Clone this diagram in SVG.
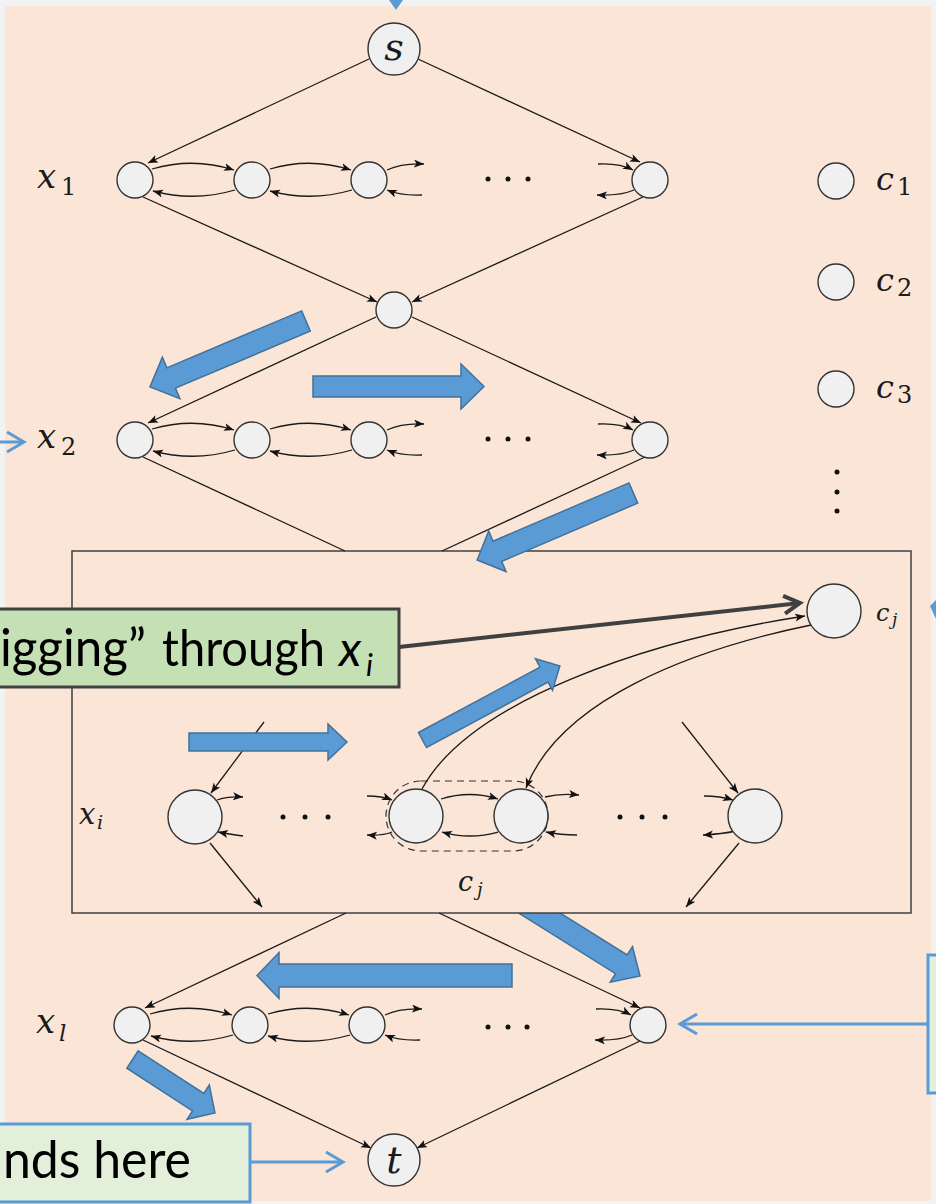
<svg xmlns="http://www.w3.org/2000/svg" xmlns:xlink="http://www.w3.org/1999/xlink" width="936" height="1204" viewBox="0 0 936 1204">
<style>
.n{fill:#f0f0f0;stroke:#333;stroke-width:1.4}
.e{fill:none;stroke:#1a1a1a;stroke-width:1.3}
.a{marker-end:url(#ah)}
.ba{fill:#5b9bd5;stroke:#41719c;stroke-width:1.5}
.m{font-family:'DejaVu Serif','Liberation Serif',serif;font-style:italic;fill:#1a1a1a}
.r{font-style:normal}
.cap{font-family:Lato,'Open Sans',sans-serif;fill:#000}
.dot{fill:#111}
</style>
<defs>
<marker id="ah" markerUnits="userSpaceOnUse" markerWidth="12" markerHeight="10" refX="10" refY="4" orient="auto"><path d="M0,0 L10,4 L0,8 L2.5,4 z" fill="#111"/></marker>
<marker id="chb" markerUnits="userSpaceOnUse" markerWidth="24" markerHeight="26" refX="19" refY="12" orient="auto"><path d="M2,2 L19,12 L2,22" fill="none" stroke="#5b9bd5" stroke-width="3"/></marker>
<marker id="chd" markerUnits="userSpaceOnUse" markerWidth="24" markerHeight="26" refX="19" refY="12" orient="auto"><path d="M3,3 L19,12 L3,21" fill="none" stroke="#404040" stroke-width="4"/></marker>
</defs>
<rect x="0" y="0" width="936" height="1204" fill="#f2f2f2"/>
<rect x="5" y="6" width="926" height="1195" fill="#fbe5d6"/>
<polygon points="389,0 403,0 396,10" fill="#5b9bd5"/>

<polygon class="ba" points="0,-11 128,-11 128,-21 150,0 128,21 128,11 0,11" transform="translate(512.8,896.5) rotate(32)"/>

<g id="box">
<rect x="72" y="551" width="839" height="362" fill="#fbe5d6" stroke="#404040" stroke-width="1.5"/>
<rect x="386" y="781" width="162" height="70" rx="35" fill="none" stroke="#333" stroke-width="1.2" stroke-dasharray="7,5"/>
</g>

<g id="connectors">
<path class="e a" d="M369,59 L148,163"/>
<path class="e a" d="M418,59 L640,162"/>
<path class="e a" d="M143,197 L377,302"/>
<path class="e a" d="M643,197 L412,302"/>
<path class="e a" d="M376,317 L148,423"/>
<path class="e a" d="M412,317 L641,423"/>
<path class="e" d="M143,457 L345,551"/>
<path class="e" d="M645,457 L442,551"/>
<g id="rowarcs">
<path class="e a" d="M152,169 Q193,157 234,170"/>
<path class="e a" d="M235,190 Q194,202 153,191"/>
<path class="e a" d="M270,169 Q310,157 351,170"/>
<path class="e a" d="M352,190 Q311,202 270,191"/>
<path class="e a" d="M387,170 Q402,163 424,164"/>
<path class="e a" d="M422,195 Q402,196 387,190"/>
<path class="e a" d="M598,164 Q620,163 633,170"/>
<path class="e a" d="M634,190 Q620,196 597,195"/>
</g>
<use xlink:href="#rowarcs" transform="translate(0,260)"/>
<use xlink:href="#rowarcs" transform="translate(-2,845)"/>
<path class="e a" d="M264,722 L211,793"/>
<path class="e a" d="M210,843 L262,907"/>
<path class="e a" d="M682,722 L738,793"/>
<path class="e a" d="M739,843 L686,907"/>
<path class="e a" d="M422,789 C470,700 650,640 805,616"/>
<path class="e a" d="M811,625 C690,650 560,700 526,788"/>
<path class="e a" d="M217,800 Q228,796 243,797"/>
<path class="e a" d="M243,836 Q228,834 218,832"/>
<path class="e a" d="M367,796 Q382,796 392,800"/>
<path class="e a" d="M392,832 Q382,836 367,835"/>
<path class="e a" d="M441,799 Q470,790 498,799"/>
<path class="e a" d="M498,832 Q470,840 442,832"/>
<path class="e a" d="M545,797 Q560,793 579,795"/>
<path class="e a" d="M577,835 Q560,835 546,832"/>
<path class="e a" d="M704,796 Q720,796 733,800"/>
<path class="e a" d="M736,831 Q722,834 703,835"/>
<path class="e a" d="M346,913 L145,1008"/>
<path class="e a" d="M439,913 L640,1008"/>
<path class="e a" d="M143,1040 L371,1148"/>
<path class="e a" d="M640,1041 L417,1148"/>
<path d="M0,442 L24,442" stroke="#5b9bd5" stroke-width="3" marker-end="url(#chb)"/>
<path d="M928,1024 L680,1024" stroke="#5b9bd5" stroke-width="3" marker-end="url(#chb)"/>
<path d="M250,1162 L343,1162" stroke="#5b9bd5" stroke-width="3" marker-end="url(#chb)"/>
<path d="M399,647 L800,603" stroke="#404040" stroke-width="4" marker-end="url(#chd)"/>
</g>

<g id="node-s"><circle class="n" cx="394" cy="49" r="26"/><text class="m" x="394" y="60" font-size="38" text-anchor="middle">s</text></g>
<g id="node-m"><circle class="n" cx="394" cy="310" r="18"/></g>
<g id="node-x1a"><circle class="n" cx="135" cy="180" r="18"/></g>
<g id="node-x1b"><circle class="n" cx="252" cy="180" r="18"/></g>
<g id="node-x1c"><circle class="n" cx="369" cy="180" r="18"/></g>
<g id="node-x1d"><circle class="n" cx="650" cy="180" r="18"/></g>
<g id="node-x2a"><circle class="n" cx="135" cy="440" r="18"/></g>
<g id="node-x2b"><circle class="n" cx="252" cy="440" r="18"/></g>
<g id="node-x2c"><circle class="n" cx="369" cy="440" r="18"/></g>
<g id="node-x2d"><circle class="n" cx="650" cy="440" r="18"/></g>
<g id="node-c1"><circle class="n" cx="836" cy="181" r="18"/></g>
<g id="node-c2"><circle class="n" cx="836" cy="282" r="18"/></g>
<g id="node-c3"><circle class="n" cx="836" cy="389" r="18"/></g>
<g id="node-cj"><circle class="n" cx="834" cy="611" r="27"/></g>
<g id="node-xiA"><circle class="n" cx="195" cy="817" r="27"/></g>
<g id="node-xiB"><circle class="n" cx="416" cy="816" r="27"/></g>
<g id="node-xiC"><circle class="n" cx="521" cy="816" r="27"/></g>
<g id="node-xiD"><circle class="n" cx="755" cy="816" r="27"/></g>
<g id="node-xla"><circle class="n" cx="132" cy="1025" r="18"/></g>
<g id="node-xlb"><circle class="n" cx="250" cy="1025" r="18"/></g>
<g id="node-xlc"><circle class="n" cx="367" cy="1025" r="18"/></g>
<g id="node-xld"><circle class="n" cx="648" cy="1025" r="18"/></g>
<g id="node-t"><circle class="n" cx="394" cy="1160" r="26"/><text class="m" x="394" y="1173" font-size="38" text-anchor="middle">t</text></g>

<g id="labels">
<text class="m" x="37" y="188" font-size="34">x</text><text class="m r" x="61" y="195" font-size="24">1</text>
<text class="m" x="37" y="448" font-size="34">x</text><text class="m r" x="61" y="455" font-size="24">2</text>
<text class="m" x="36" y="1033" font-size="34">x</text><text class="m" x="59" y="1041" font-size="23">l</text>
<text class="m" x="79" y="824" font-size="29">x</text><text class="m" x="97" y="829" font-size="19">i</text>
<text class="m" x="876" y="190" font-size="32">c</text><text class="m r" x="897" y="195" font-size="24">1</text>
<text class="m" x="876" y="291" font-size="32">c</text><text class="m r" x="897" y="296" font-size="24">2</text>
<text class="m" x="876" y="398" font-size="32">c</text><text class="m r" x="897" y="403" font-size="24">3</text>
<text class="m" x="876" y="621" font-size="24">c</text><text class="m" x="892" y="625" font-size="17">j</text>
<text class="m" x="458" y="891" font-size="27">c</text><text class="m" x="477" y="896" font-size="18">j</text>
</g>

<g id="dots">
<circle class="dot" cx="488" cy="179" r="2.5"/><circle class="dot" cx="508" cy="179" r="2.5"/><circle class="dot" cx="528" cy="179" r="2.5"/>
<circle class="dot" cx="488" cy="439" r="2.5"/><circle class="dot" cx="508" cy="439" r="2.5"/><circle class="dot" cx="528" cy="439" r="2.5"/>
<circle class="dot" cx="488" cy="1027" r="2.5"/><circle class="dot" cx="508" cy="1027" r="2.5"/><circle class="dot" cx="527" cy="1027" r="2.5"/>
<circle class="dot" cx="283" cy="817" r="2.5"/><circle class="dot" cx="305" cy="817" r="2.5"/><circle class="dot" cx="328" cy="817" r="2.5"/>
<circle class="dot" cx="620" cy="817" r="2.5"/><circle class="dot" cx="642" cy="817" r="2.5"/><circle class="dot" cx="665" cy="817" r="2.5"/>
<circle class="dot" cx="837" cy="472" r="2.5"/><circle class="dot" cx="837" cy="492" r="2.5"/><circle class="dot" cx="837" cy="511" r="2.5"/>
</g>

<g id="blue-arrows">
<polygon class="ba" points="0,-11 146.4,-11 146.4,-22.5 169.4,0 146.4,22.5 146.4,11 0,11" transform="translate(306,321) rotate(157.1)"/>
<polygon class="ba" points="0,-10.5 148,-10.5 148,-22.5 171,0 148,22.5 148,10.5 0,10.5" transform="translate(313,386.5)"/>
<polygon class="ba" points="0,-11 148,-11 148,-22 170,0 148,22 148,11 0,11" transform="translate(633.4,493) rotate(156.8)"/>
<polygon class="ba" points="0,-9 139,-9 139,-18 158,0 139,18 139,9 0,9" transform="translate(189,742)"/>
<polygon class="ba" points="0,-8.5 138,-8.5 138,-18 156,0 138,18 138,8.5 0,8.5" transform="translate(422.5,740) rotate(-28.3)"/>
<polygon class="ba" points="0,-11.5 233,-11.5 233,-23 255,0 233,23 233,11.5 0,11.5" transform="translate(512,975.5) rotate(180)"/>
<polygon class="ba" points="0,-10.4 78.3,-10.4 78.3,-20.4 98.3,0 78.3,20.4 78.3,10.4 0,10.4" transform="translate(132.5,1059.5) rotate(33)"/>
</g>

<g id="callout-zig">
<rect x="-6" y="609" width="405" height="78" fill="#c5e0b4" stroke="#404040" stroke-width="3"/>
<text class="cap" y="666" font-size="53"><tspan x="0" textLength="146" lengthAdjust="spacingAndGlyphs">igging”</tspan><tspan x="162" textLength="163" lengthAdjust="spacingAndGlyphs" font-size="50">through</tspan><tspan x="339" font-style="italic" font-size="48">x</tspan><tspan x="366" dy="10" font-size="30" font-style="italic">i</tspan></text>
</g>
<g id="callout-ends">
<rect x="-6" y="1124" width="256" height="78" fill="#e2efda" stroke="#5b9bd5" stroke-width="3"/>
<text class="cap" x="3" y="1178" font-size="52" textLength="188" lengthAdjust="spacingAndGlyphs">nds here</text>
</g>
<g id="callout-right">
<rect x="928" y="955" width="20" height="138" fill="#e2efda" stroke="#5b9bd5" stroke-width="3"/>
</g>
<polygon points="930,606 936,600 936,619" fill="#5b9bd5"/>
</svg>
